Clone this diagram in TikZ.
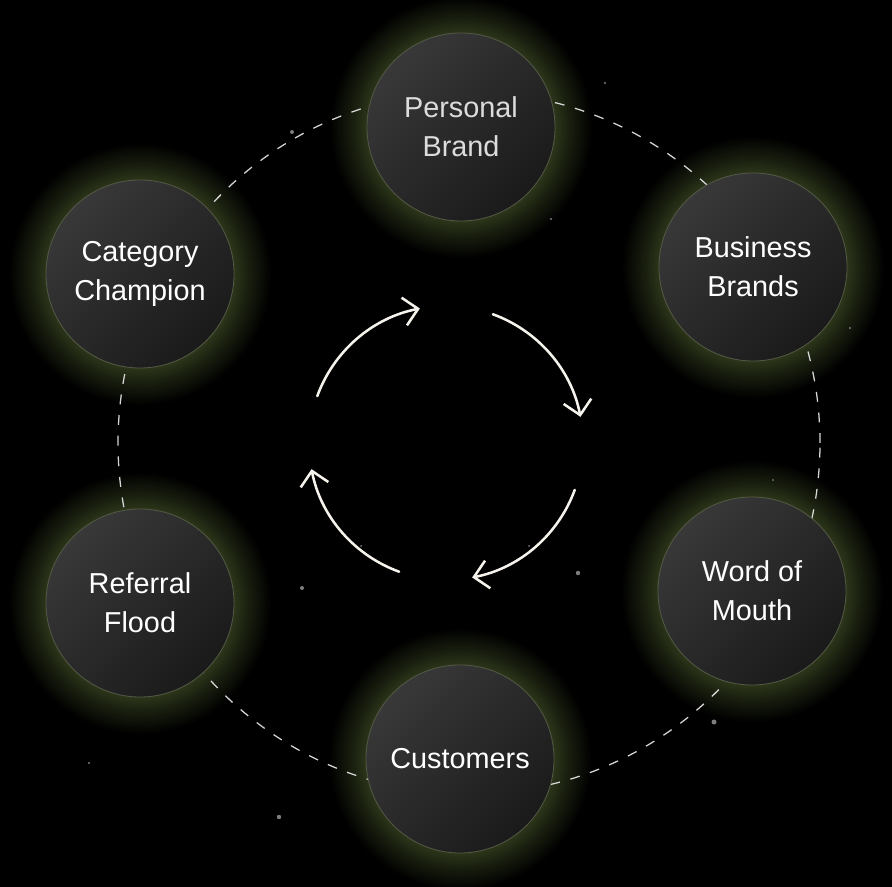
\documentclass[tikz,border=0pt]{standalone}
\usepackage{fontspec}
\setmainfont{Liberation Sans}
\usetikzlibrary{arrows.meta}

\definecolor{halo}{RGB}{44,54,26}
\definecolor{nodetop}{RGB}{56,56,56}
\definecolor{nodebot}{RGB}{26,26,26}
\definecolor{rimcol}{RGB}{82,88,68}
\definecolor{ringcol}{RGB}{215,215,215}
\definecolor{cyclecol}{RGB}{246,243,236}
\definecolor{dotgray}{RGB}{125,125,125}

\pgfdeclareradialshading{haloshade}{\pgfpoint{0bp}{0bp}}{%
  color(0bp)=(halo); color(17.5bp)=(halo); color(20bp)=(halo!60!black);
  color(24.5bp)=(black); color(50bp)=(black)}

\tikzset{
  stage/.style={circle, draw=rimcol, line width=0.6pt, minimum size=4.7cm,
    top color=nodetop, bottom color=nodebot, shading angle=45,
    text=white, align=center, font=\fontsize{20.5}{27.5}\selectfont},
  cyclearrow/.style={line width=1.8pt, cyclecol, line cap=round,
    -{Straight Barb[length=10pt,width=20pt,line width=1.8pt]}},
}

\begin{document}
\begin{tikzpicture}[x=0.025cm,y=0.025cm]
  % canvas
  \useasboundingbox (0,0) rectangle (892,886);
  \fill[black] (-20,-20) rectangle (912,906);

  % glows behind the stages
  \foreach \x/\y in {461/759,753/619,752/295,460/127,140/283,140/612}
    \shade[shading=haloshade] (\x,\y) circle (134);

  % dashed orbit
  \coordinate (orbit) at (469,443);
  \draw[ringcol, line width=0.9pt, dash pattern=on 7pt off 7.7pt] (orbit) circle (351);

  % stars
  \foreach \x/\y/\s in {292/754/2, 605/803/1.2, 551/667/1.2, 850/558/1.2,
      302/298/2, 89/123/1.2, 279/69/2.2, 361/340/1, 578/313/2.2,
      529/340/1, 714/164/2.5, 773/406/1}
    \fill[dotgray] (\x,\y) circle (\s);

  % stages
  \node[stage, text={rgb,255:red,220;green,220;blue,220}] (personal) at (461,759) {Personal\\Brand};
  \node[stage] (business) at (753,619) {Business\\Brands};
  \node[stage] (word) at (752,295) {Word of\\Mouth};
  \node[stage] (customers) at (460,127) {Customers};
  \node[stage] (referral) at (140,283) {Referral\\Flood};
  \node[stage] (category) at (140,612) {Category\\Champion};

  % cycle arrows
  \coordinate (hub) at (446,443);
  \foreach \a in {160,70,-20,-110}
    \draw[cyclearrow] ([shift={(\a:137)}]hub) arc (\a:\a-59:137);
\end{tikzpicture}
\end{document}
